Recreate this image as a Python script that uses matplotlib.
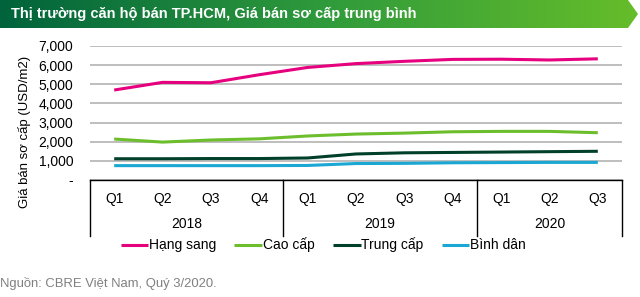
import numpy as np
import matplotlib
matplotlib.use("Agg")
import matplotlib.pyplot as plt
from matplotlib.colors import LinearSegmentedColormap
from matplotlib.patches import Polygon
from matplotlib.transforms import blended_transform_factory

plt.rcParams['font.family'] = ['Liberation Sans', 'DejaVu Sans']

quarters = ['Q1', 'Q2', 'Q3', 'Q4', 'Q1', 'Q2', 'Q3', 'Q4', 'Q1', 'Q2', 'Q3']
years = ['2018', '2019', '2020']
year_spans = [(0, 3), (4, 7), (8, 10)]

hang_sang = [4700, 5100, 5080, 5500, 5880, 6080, 6200, 6300, 6310, 6270, 6330]
cao_cap = [2140, 1980, 2090, 2150, 2300, 2400, 2450, 2520, 2540, 2540, 2470]
trung_cap = [1110, 1110, 1120, 1120, 1150, 1360, 1420, 1440, 1460, 1480, 1500]
binh_dan = [750, 750, 750, 750, 760, 860, 870, 900, 910, 920, 920]

series = [
    ('Hạng sang', hang_sang, '#e6007e'),
    ('Cao cấp', cao_cap, '#6dbe2d'),
    ('Trung cấp', trung_cap, '#003f2a'),
    ('Bình dân', binh_dan, '#1aa7d4'),
]

W, H = 640, 297
fig = plt.figure(figsize=(W / 100, H / 100), dpi=100)

# title banner
bax = fig.add_axes([0, 1 - 28 / H, 1, 28 / H])
bax.set_xlim(0, W)
bax.set_ylim(0, 28)
bax.axis('off')
cmap = LinearSegmentedColormap.from_list('g', ['#00633b', '#2e9a3c', '#66bd2a'])
grad = np.linspace(0, 1, 256).reshape(1, -1)
im = bax.imshow(grad, cmap=cmap, extent=[0, 638, 0, 28], aspect='auto')
shape = Polygon([(0, 0), (628, 0), (638, 14), (628, 28), (0, 28)], closed=True,
                facecolor='none', edgecolor='none', transform=bax.transData)
bax.add_patch(shape)
im.set_clip_path(shape)
bax.text(11, 14, 'Thị trường căn hộ bán TP.HCM, Giá bán sơ cấp trung bình',
         color='white', fontsize=10.5, fontweight='bold', va='center', ha='left')

# main chart
ax = fig.add_axes([90 / W, 1 - 180 / H, 532 / W, 134 / H])
x = np.arange(len(quarters))
for name, vals, col in series:
    ax.plot(x, vals, color=col, lw=2.2, label=name, solid_capstyle='butt')

ax.set_xlim(-0.5, len(quarters) - 0.5)
ax.set_ylim(0, 7000)
ax.set_yticks(range(0, 7001, 1000))
ax.set_yticklabels(['-'] + ['{:,}'.format(v) for v in range(1000, 7001, 1000)])
ax.yaxis.grid(True, color='#b3b3b3', lw=1.2)
ax.set_axisbelow(True)
ax.tick_params(axis='y', length=0, pad=12, labelsize=10)
for s in ['top', 'right', 'left']:
    ax.spines[s].set_visible(False)
ax.spines['bottom'].set_color('black')
ax.spines['bottom'].set_linewidth(1.0)
ax.set_xticks([])

trans = blended_transform_factory(ax.transData, ax.transAxes)
for i, q in enumerate(quarters):
    ax.text(i, -19 / 134, q, transform=trans, ha='center', va='center', fontsize=10)
for yr, (a, b) in zip(years, year_spans):
    ax.text((a + b) / 2, -44 / 134, yr, transform=trans, ha='center', va='center', fontsize=10)
for xb in [-0.5, 3.5, 7.5, 10.5]:
    ax.plot([xb, xb], [0, -56 / 134], transform=trans, color='black', lw=1.0, clip_on=False)

fig.text(25 / W, 1 - 132 / H, 'Giá bán sơ cấp (USD/m2)', rotation=90,
         ha='center', va='center', fontsize=9.5)

fig.legend(loc='center', bbox_to_anchor=(0.505, 1 - 245 / H), ncol=4, frameon=False,
           fontsize=10, handlelength=2.0, handletextpad=0.05, columnspacing=1.3)

fig.text(0, 1 - 283 / H, 'Nguồn: CBRE Việt Nam, Quý 3/2020.', color='#808080',
         fontsize=9.4, ha='left', va='center')

fig.savefig('out.png', dpi=100)
